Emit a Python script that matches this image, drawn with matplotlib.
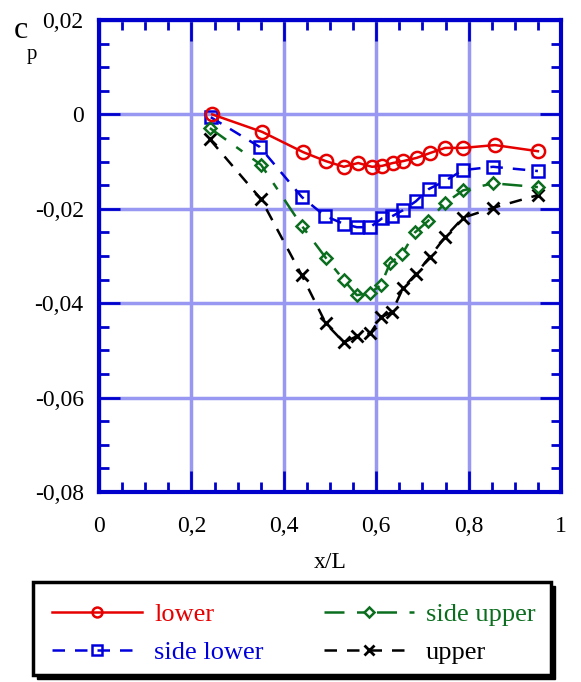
import matplotlib
matplotlib.use("Agg")
import matplotlib.pyplot as plt
from matplotlib.patches import Rectangle
from matplotlib.ticker import MultipleLocator

plt.rcParams['font.family'] = ['Liberation Serif', 'DejaVu Serif']

# ---- data ----
x_lower = [0.245, 0.353, 0.442, 0.491, 0.530, 0.561, 0.591, 0.613, 0.636, 0.658, 0.688, 0.716, 0.749, 0.788, 0.857, 0.950]
cp_lower = [0.0000, -0.0037, -0.0080, -0.0099, -0.0111, -0.0103, -0.0111, -0.0109, -0.0103, -0.0099, -0.0092, -0.0082, -0.0071, -0.0071, -0.0065, -0.0078]

x_side_lower = [0.242, 0.348, 0.439, 0.489, 0.530, 0.558, 0.587, 0.613, 0.634, 0.658, 0.686, 0.714, 0.749, 0.788, 0.853, 0.950]
cp_side_lower = [-0.0006, -0.0069, -0.0175, -0.0215, -0.0232, -0.0239, -0.0239, -0.0220, -0.0216, -0.0203, -0.0184, -0.0158, -0.0141, -0.0118, -0.0111, -0.0120]

x_side_upper = [0.240, 0.351, 0.439, 0.491, 0.530, 0.558, 0.587, 0.610, 0.630, 0.656, 0.684, 0.712, 0.749, 0.788, 0.853, 0.950]
cp_side_upper = [-0.0029, -0.0107, -0.0236, -0.0304, -0.0351, -0.0383, -0.0378, -0.0362, -0.0315, -0.0296, -0.0250, -0.0226, -0.0188, -0.0161, -0.0146, -0.0154]

x_upper = [0.240, 0.351, 0.439, 0.491, 0.530, 0.558, 0.587, 0.610, 0.634, 0.658, 0.686, 0.716, 0.749, 0.788, 0.853, 0.950]
cp_upper = [-0.0053, -0.0180, -0.0341, -0.0443, -0.0483, -0.0470, -0.0464, -0.0430, -0.0419, -0.0368, -0.0338, -0.0302, -0.0260, -0.0219, -0.0198, -0.0171]

x_ticks = [0, 0.2, 0.4, 0.6, 0.8, 1.0]
x_ticklabels = ["0", "0,2", "0,4", "0,6", "0,8", "1"]
y_ticks = [-0.08, -0.06, -0.04, -0.02, 0.0, 0.02]
y_ticklabels = ["-0,08", "-0,06", "-0,04", "-0,02", "0", "0,02"]

RED = '#e60000'
BLUE = '#0000dd'
GREEN = '#0b6e1e'
BLACK = '#000000'
SPINE = '#0000cc'
GRID = '#9898f2'

W, H = 581, 682
fig = plt.figure(figsize=(W/100, H/100), dpi=100)
ax = fig.add_axes([99/W, 1-492/H, (561-99)/W, (492-20)/H])

ax.plot(x_lower, cp_lower, color=RED, lw=1.8, ls='-', marker='o', ms=9.5,
        mfc='none', mec=RED, mew=1.8, label='lower', zorder=5)
ax.plot(x_side_lower, cp_side_lower, color=BLUE, lw=1.8, ls=(0, (5, 4)), marker='s', ms=9,
        mfc='none', mec=BLUE, mew=1.8, label='side lower', zorder=4)
ax.plot(x_side_upper, cp_side_upper, color=GREEN, lw=1.8, ls=(0, (8, 5, 3, 5)), marker='D', ms=6.5,
        mfc='none', mec=GREEN, mew=1.8, label='side upper', zorder=4)
ax.plot(x_upper, cp_upper, color=BLACK, lw=1.8, ls=(0, (5, 4)), marker='x', ms=9,
        mec=BLACK, mew=2.0, label='upper', zorder=3)

ax.set_xlim(0, 1)
ax.set_ylim(-0.08, 0.02)
ax.set_xticks(x_ticks)
ax.set_xticklabels(x_ticklabels)
ax.set_yticks(y_ticks)
ax.set_yticklabels(y_ticklabels)
ax.xaxis.set_minor_locator(MultipleLocator(0.05))
ax.yaxis.set_minor_locator(MultipleLocator(0.005))
ax.tick_params(which='both', direction='in', top=True, right=True, color=SPINE,
               labelsize=17, labelcolor='black', width=2)
ax.tick_params(which='major', length=15)
ax.tick_params(which='minor', length=7)
ax.tick_params(axis='x', which='major', pad=17)
ax.tick_params(axis='y', which='major', pad=11)
ax.grid(True, which='major', color=GRID, lw=2.5, zorder=0)
ax.set_axisbelow(True)
for s in ax.spines.values():
    s.set_color(SPINE)
    s.set_linewidth(3)

fig.text((99+561)/2/W, 1-563/H, 'x/L', ha='center', va='center', fontsize=17)
fig.text(21/W, 1-30/H, 'c', ha='center', va='center', fontsize=23)
fig.text(32/W, 1-55/H, 'p', ha='center', va='center', fontsize=15)

# legend box with shadow
bx0, by0, bw, bh = 33, 582, 518, 93
fig.patches.append(Rectangle(((bx0+4)/W, 1-(by0+bh+4)/H), bw/W, bh/H, transform=fig.transFigure,
                             facecolor='black', edgecolor='black', zorder=1))
fig.patches.append(Rectangle((bx0/W, 1-(by0+bh)/H), bw/W, bh/H, transform=fig.transFigure,
                             facecolor='white', edgecolor='black', lw=2.5, zorder=2))

h, l = ax.get_legend_handles_labels()
leg = fig.legend(h, l, ncol=2,
                 loc='center', bbox_to_anchor=((bx0+bw/2 + 2)/W, 1-(by0+bh/2+5)/H),
                 frameon=False, fontsize=19, handlelength=3.4, markerscale=0.75,
                 columnspacing=2.3, labelspacing=0.55, handletextpad=0.45,
                 labelcolor='linecolor')
leg.set_zorder(3)

fig.savefig('out.png', dpi=100)
